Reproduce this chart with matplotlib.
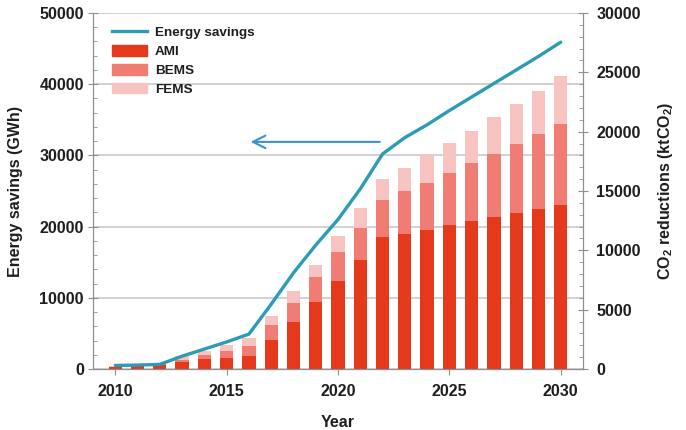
import matplotlib
matplotlib.use('Agg')
import matplotlib.pyplot as plt
from matplotlib.ticker import MultipleLocator
from matplotlib.lines import Line2D
from matplotlib.patches import Patch
import numpy as np

plt.rcParams['font.family'] = ['Liberation Sans', 'DejaVu Sans']
plt.rcParams['font.weight'] = 'bold'
plt.rcParams['mathtext.fontset'] = 'custom'
plt.rcParams['mathtext.bf'] = 'Liberation Sans:bold'
plt.rcParams['mathtext.rm'] = 'Liberation Sans:bold'
plt.rcParams['mathtext.default'] = 'bf'

# data
years = list(range(2010, 2031))
energy_savings = [500, 550, 650, 1800, 2800, 3800, 4900, 9100, 13500, 17400, 21000,
                  25300, 30200, 32500, 34300, 36300, 38200, 40100, 42000, 43900, 45900]
ami = [150, 250, 350, 560, 840, 920, 1070, 2460, 3970, 5650, 7400,
       9200, 11100, 11400, 11750, 12100, 12500, 12800, 13150, 13450, 13800]
bems = [50, 50, 50, 220, 340, 570, 890, 1260, 1630, 2080, 2430,
        2650, 3100, 3560, 3960, 4450, 4900, 5350, 5840, 6380, 6870]
fems = [50, 50, 50, 340, 360, 530, 640, 760, 980, 1040, 1350,
        1680, 1850, 2010, 2290, 2530, 2680, 3110, 3360, 3620, 3980]

LINE_C = '#2b9bb6'
ARROW_C = '#3b90cf'
AMI_C = '#e5391b'
BEMS_C = '#f07c73'
FEMS_C = '#f8c4c2'
SPINE_C = '#8f8f8f'
GRID_C = '#c9c9c9'
TEXT_C = '#1e1e1e'
FS = 11.5

fig = plt.figure(figsize=(6.86, 4.30), dpi=100)
ax1 = fig.add_axes([93/686, 1-369/430, (583-93)/686, (369-13)/430])
ax2 = ax1.twinx()
ax3 = fig.add_axes(ax1.get_position(), sharex=ax1, sharey=ax1)

# grid at the bottom, bars over it, line on top
ax1.set_zorder(1)
ax2.set_zorder(2)
ax3.set_zorder(3)
ax2.patch.set_visible(False)
ax3.patch.set_visible(False)
ax3.axis('off')

yrs = np.array(years)
a = np.array(ami)
b = np.array(bems)
f = np.array(fems)
w = 0.6
ax2.bar(yrs, a, w, color=AMI_C, linewidth=0)
ax2.bar(yrs, b, w, bottom=a, color=BEMS_C, linewidth=0)
ax2.bar(yrs, f, w, bottom=a+b, color=FEMS_C, linewidth=0)

ax3.plot(yrs, energy_savings, color=LINE_C, lw=2.4, solid_joinstyle='round',
         solid_capstyle='round')
ax3.annotate('', xy=(2015.95, 31900), xytext=(2022.0, 31900),
             arrowprops=dict(arrowstyle='->,head_length=0.9,head_width=0.45',
                             color=ARROW_C, lw=1.5))

ax1.set_xlim(2009.0, 2031.0)
ax1.set_ylim(0, 50000)
ax2.set_ylim(0, 30000)

ax1.yaxis.set_major_locator(MultipleLocator(10000))
ax1.yaxis.set_minor_locator(MultipleLocator(2000))
ax2.yaxis.set_major_locator(MultipleLocator(5000))
ax2.yaxis.set_minor_locator(MultipleLocator(1000))
ax1.xaxis.set_major_locator(MultipleLocator(5))

ax1.grid(axis='y', which='major', color=GRID_C, lw=1.2)
ax1.set_axisbelow(True)

for ax in (ax1, ax2):
    for s in ax.spines.values():
        s.set_color(SPINE_C)
    ax.spines['top'].set_visible(False)

ax1.tick_params(axis='y', which='major', direction='inout', length=7, color=SPINE_C,
                labelsize=FS, labelcolor=TEXT_C, pad=3)
ax1.tick_params(axis='y', which='minor', direction='in', length=3, color=SPINE_C)
ax1.tick_params(axis='x', which='major', direction='out', length=4, color=SPINE_C,
                labelsize=FS, labelcolor=TEXT_C, pad=7)
ax2.tick_params(axis='y', which='major', direction='inout', length=7, color=SPINE_C,
                labelsize=FS, labelcolor=TEXT_C, pad=6)
ax2.tick_params(axis='y', which='minor', direction='in', length=3, color=SPINE_C)

ax1.set_ylabel('Energy savings (GWh)', fontsize=FS, fontweight='bold', color=TEXT_C,
               labelpad=12)
ax2.set_ylabel('CO$_2$ reductions (ktCO$_2$)', fontsize=FS, fontweight='bold',
               color=TEXT_C, labelpad=11)
ax1.set_xlabel('Year', fontsize=FS, fontweight='bold', color=TEXT_C, labelpad=11)

handles = [Line2D([], [], color=LINE_C, lw=2.4),
           Patch(color=AMI_C), Patch(color=BEMS_C), Patch(color=FEMS_C)]
labels = ['Energy savings', 'AMI', 'BEMS', 'FEMS']
leg = ax3.legend(handles, labels, loc='upper left', bbox_to_anchor=(0.022, 0.985),
                 frameon=False, fontsize=9.7, handlelength=2.6, handleheight=0.85,
                 labelspacing=0.42, handletextpad=0.6, borderaxespad=0.2)
for t in leg.get_texts():
    t.set_fontweight('bold')
    t.set_color(TEXT_C)

fig.savefig('out.png', dpi=100)
